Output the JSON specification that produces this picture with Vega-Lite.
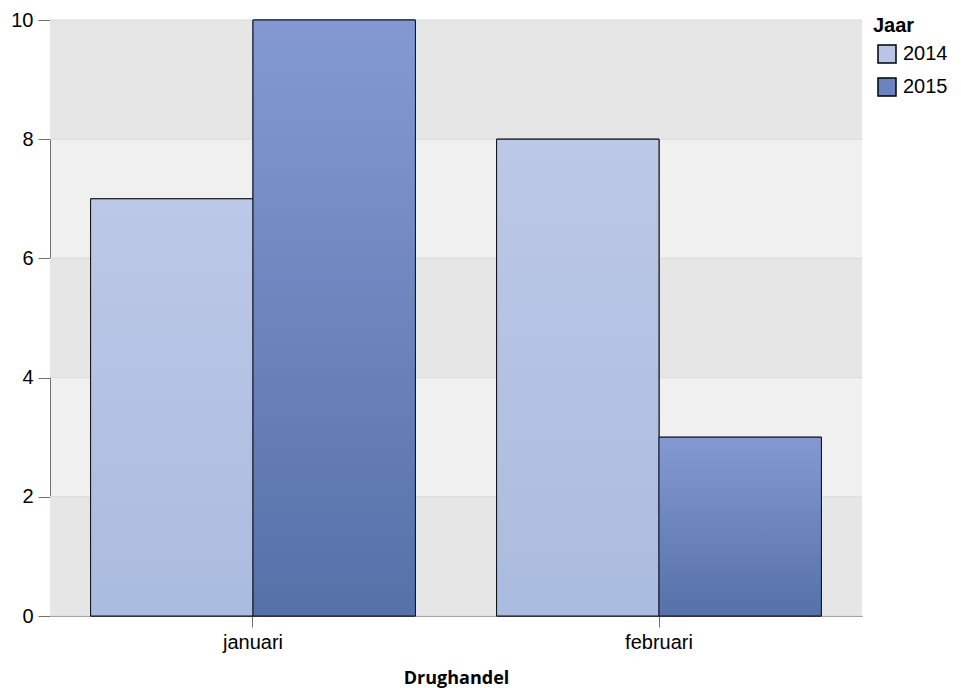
{
  "$schema": "https://vega.github.io/schema/vega-lite/v6.json",
  "width": 812,
  "height": 596,
  "autosize": {"type": "none"},
  "padding": {"left": 50, "top": 20, "right": 99, "bottom": 72},
  "background": "white",
  "config": {
    "view": {"fill": "#f0f0f0", "stroke": null},
    "font": "Liberation Sans"
  },
  "datasets": {
    "bars": [
      {"Maand": "januari", "Jaar": "2014", "Aantal": 7},
      {"Maand": "januari", "Jaar": "2015", "Aantal": 10},
      {"Maand": "februari", "Jaar": "2014", "Aantal": 8},
      {"Maand": "februari", "Jaar": "2015", "Aantal": 3}
    ],
    "bands": [
      {"van": 0, "tot": 2},
      {"van": 4, "tot": 6},
      {"van": 8, "tot": 10}
    ],
    "grid": [{"v": 0}, {"v": 2}, {"v": 4}, {"v": 6}, {"v": 8}, {"v": 10}]
  },
  "layer": [
    {
      "data": {"name": "bands"},
      "mark": {"type": "rect", "fill": "#e6e6e6"},
      "encoding": {
        "x": {"value": 0},
        "x2": {"value": "width"},
        "y": {"field": "van", "type": "quantitative", "scale": {"domain": [0, 10], "nice": false}},
        "y2": {"field": "tot"}
      }
    },
    {
      "data": {"name": "grid"},
      "mark": {"type": "rule", "stroke": "#d9d9d9", "strokeWidth": 1},
      "encoding": {
        "y": {"field": "v", "type": "quantitative"}
      }
    },
    {
      "data": {"name": "bars"},
      "mark": {"type": "bar", "stroke": "black", "strokeWidth": 1},
      "encoding": {
        "x": {
          "field": "Maand", "type": "nominal", "sort": ["januari", "februari"],
          "scale": {"paddingInner": 0.2, "paddingOuter": 0.1},
          "axis": {
            "title": "Drughandel", "labelAngle": 0, "labelFontSize": 20, "labelColor": "black",
            "labelFont": "Liberation Sans", "labelPadding": 5,
            "titleFont": "Open Sans", "titleFontSize": 18, "titleFontWeight": "bold", "titleColor": "black", "titlePadding": 17,
            "domainColor": "#707070", "tickColor": "#707070", "tickSize": 11, "grid": false
          }
        },
        "xOffset": {"field": "Jaar", "type": "nominal", "scale": {"paddingInner": 0, "paddingOuter": 0}},
        "y": {
          "field": "Aantal", "type": "quantitative",
          "scale": {"domain": [0, 10], "nice": false},
          "axis": {
            "title": null, "values": [0, 2, 4, 6, 8, 10], "format": "d", "labelFontSize": 20, "labelColor": "black",
            "labelFont": "Liberation Sans", "labelPadding": 5,
            "domainColor": "#707070", "tickColor": "#707070", "tickSize": 12, "grid": false
          }
        },
        "fill": {
          "field": "Jaar", "type": "nominal",
          "scale": {"domain": ["2014", "2015"], "range": ["#b8c5e6", "#6b83c0"]},
          "legend": {
            "title": "Jaar", "titleFontSize": 20, "titleFontWeight": "bold", "titleColor": "black",
            "labelFontSize": 20, "labelColor": "black", "symbolType": "square", "symbolSize": 324,
            "symbolStrokeColor": "black", "symbolStrokeWidth": 1.5, "rowPadding": 9,
            "titlePadding": 8, "labelOffset": 6, "padding": 0, "symbolOffset": 4,
            "orient": "none", "legendX": 823, "legendY": -4
          }
        },
        "stroke": {"value": "black"}
      }
    },
    {
      "data": {"name": "bars"},
      "mark": {"type": "bar", "strokeWidth": 1},
      "encoding": {
        "x": {"field": "Maand", "type": "nominal", "sort": ["januari", "februari"]},
        "xOffset": {"field": "Jaar", "type": "nominal"},
        "y": {"field": "Aantal", "type": "quantitative"},
        "fill": {
          "condition": {
            "test": "datum.Jaar == '2014'",
            "value": {"gradient": "linear", "x1": 0, "y1": 0, "x2": 0, "y2": 1,
              "stops": [{"offset": 0, "color": "#bcc8e7"}, {"offset": 1, "color": "#aabcdf"}]}
          },
          "value": {"gradient": "linear", "x1": 0, "y1": 0, "x2": 0, "y2": 1,
            "stops": [{"offset": 0, "color": "#8499d2"}, {"offset": 1, "color": "#5571a8"}]}
        },
        "stroke": {
          "condition": {"test": "datum.Jaar == '2014'", "value": "#111111"},
          "value": "#0c1530"
        }
      }
    }
  ]
}
